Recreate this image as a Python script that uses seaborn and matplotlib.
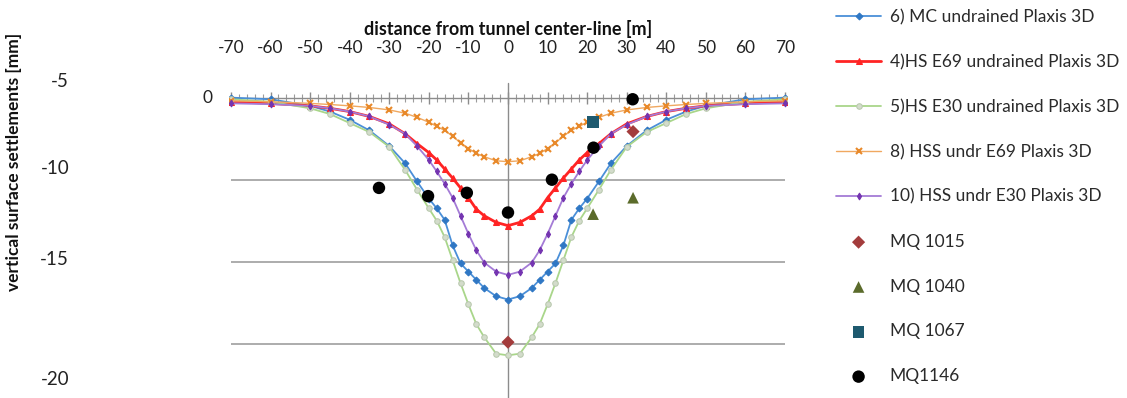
import matplotlib
matplotlib.use("Agg")
import matplotlib.pyplot as plt
import seaborn as sns
import numpy as np
from matplotlib.ticker import MultipleLocator, FixedLocator, NullFormatter

# ---------------- data ----------------
x_dist = [-70, -60, -50, -45, -40, -35, -30, -26, -23, -20, -18, -16, -14, -12, -10, -8, -6, -3,
          0, 3, 6, 8, 10, 12, 14, 16, 18, 20, 23, 26, 30, 35, 40, 45, 50, 60, 70]

mc_undrained = [0.0, -0.1, -0.5, -0.85, -1.35, -2.0, -2.95, -4.0, -5.1, -6.15, -6.75, -7.45, -9.0, -10.1, -10.6, -11.1, -11.6, -12.1,
                -12.3, -12.1, -11.6, -11.1, -10.6, -10.1, -9.0, -7.45, -6.75, -6.15, -5.1, -4.0, -2.95, -2.0, -1.35, -0.85, -0.5, -0.1, 0.0]
hs_e69 = [-0.25, -0.35, -0.5, -0.65, -0.85, -1.15, -1.6, -2.2, -2.8, -3.35, -3.8, -4.35, -4.9, -5.5, -6.1, -6.8, -7.2, -7.6,
          -7.8, -7.6, -7.2, -6.8, -6.1, -5.5, -4.9, -4.35, -3.8, -3.35, -2.8, -2.2, -1.6, -1.15, -0.85, -0.65, -0.5, -0.35, -0.25]
hs_e30 = [-0.1, -0.25, -0.65, -1.0, -1.55, -2.1, -3.0, -4.4, -5.6, -6.75, -7.5, -8.5, -9.9, -11.3, -12.6, -13.8, -14.6, -15.6,
          -15.7, -15.6, -14.6, -13.8, -12.6, -11.3, -9.9, -8.5, -7.5, -6.75, -5.6, -4.4, -3.0, -2.1, -1.55, -1.0, -0.65, -0.25, -0.1]
hss_e69 = [-0.2, -0.25, -0.35, -0.42, -0.5, -0.6, -0.75, -0.95, -1.2, -1.5, -1.75, -2.0, -2.35, -2.75, -3.1, -3.4, -3.6, -3.85,
           -3.9, -3.85, -3.6, -3.4, -3.1, -2.75, -2.35, -2.0, -1.75, -1.5, -1.2, -0.95, -0.75, -0.6, -0.5, -0.42, -0.35, -0.25, -0.2]
hss_e30 = [-0.35, -0.4, -0.5, -0.65, -0.85, -1.15, -1.65, -2.2, -2.95, -3.8, -4.5, -5.25, -6.1, -7.2, -8.3, -9.3, -10.05, -10.6,
           -10.8, -10.6, -10.05, -9.3, -8.3, -7.2, -6.1, -5.25, -4.5, -3.8, -2.95, -2.2, -1.65, -1.15, -0.85, -0.65, -0.5, -0.4, -0.35]

mq1015_x = [0, 31.6]
mq1015_y = [-14.9, -2.07]
mq1040_x = [21.5, 31.6]
mq1040_y = [-7.1, -6.1]
mq1067_x = [21.5]
mq1067_y = [-1.5]
mq1146_x = [-32.6, -20.2, -10.4, 0, 11.1, 21.6, 31.5]
mq1146_y = [-5.5, -6.0, -5.8, -7.0, -5.0, -3.05, -0.1]

x_ticks = [-70, -60, -50, -40, -30, -20, -10, 0, 10, 20, 30, 40, 50, 60, 70]
grid_levels = [-5, -10, -15]
y_tick_labels = ["-5", "-10", "-15", "-20"]
y_tick_pos = [1.1, -4.2, -9.75, -17.1]

# ---------------- style ----------------
sns.set_theme(style="white")
plt.rcParams["font.family"] = ["Lato", "DejaVu Sans"]

W, H = 1127, 398
fig = plt.figure(figsize=(W / 100, H / 100), dpi=100)
ax_left, ax_right, ax_top, ax_bot = 229, 787, 73, 398
ax = fig.add_axes([ax_left / W, 1 - ax_bot / H, (ax_right - ax_left) / W, (ax_bot - ax_top) / H])
ax.set_xlim(-70.5, 70.5)
ax.set_ylim(-18.3, 1.5)

# grid lines
ax.hlines(grid_levels, -70, 70, color="#a6a6a6", lw=1.3, zorder=1)
ax.axvline(0, ymin=0, ymax=(0.9 + 18.3) / 19.8, color="#8c8c8c", lw=1.0, zorder=1)

series = [
    (mc_undrained, "6) MC undrained Plaxis 3D", dict(color="#4a8fd8", lw=1.3, marker="D", ms=3.5,
                                                      mfc="#2f77c4", mec="#2f77c4")),
    (hs_e69, "4)HS E69 undrained Plaxis 3D", dict(color="#ff2424", lw=2.0, marker="^", ms=4.5,
                                                   mfc="#ff2424", mec="#ff2424")),
    (hs_e30, "5)HS E30 undrained Plaxis 3D", dict(color="#a9d68a", lw=1.3, marker="o", ms=4,
                                                   mfc="#d3dccb", mec="#b9c9ae")),
    (hss_e69, "8) HSS undr E69 Plaxis 3D", dict(color="#f0a860", lw=1.0, marker="x", ms=4.5, mew=1.5,
                                                 mfc="#e8892a", mec="#e8892a")),
    (hss_e30, "10) HSS undr E30 Plaxis 3D", dict(color="#a47bd6", lw=1.3, marker="d", ms=3.5,
                                                  mfc="#7434b0", mec="#7434b0")),
]
for vals, label, kw in series:
    sns.lineplot(x=x_dist, y=vals, ax=ax, label=label, sort=False, zorder=3, **kw)

points = [
    (mq1015_x, mq1015_y, "MQ 1015", "D", "#a33c3c", 45),
    (mq1040_x, mq1040_y, "MQ 1040", "^", "#5b6b2b", 70),
    (mq1067_x, mq1067_y, "MQ 1067", "s", "#1e5a6f", 70),
    (mq1146_x, mq1146_y, "MQ1146", "o", "#000000", 80),
]
for xs, ys, label, m, c, s in points:
    sns.scatterplot(x=xs, y=ys, ax=ax, label=label, marker=m, color=c, s=s,
                    edgecolor="none", zorder=5)

# axes / spines
for side in ["top", "right", "left"]:
    ax.spines[side].set_visible(False)
ax.spines["bottom"].set_position(("data", 0))
ax.spines["bottom"].set_color("#8c8c8c")
ax.spines["bottom"].set_linewidth(1.0)
ax.spines["bottom"].set_bounds(-70, 70)
ax.xaxis.set_major_locator(FixedLocator(x_ticks))
ax.xaxis.set_minor_locator(MultipleLocator(2))
ax.xaxis.set_major_formatter(NullFormatter())
ax.tick_params(axis="x", which="major", direction="inout", length=8, color="#8c8c8c", width=1,
               bottom=True, labelbottom=False)
ax.tick_params(axis="x", which="minor", direction="inout", length=6, color="#9c9c9c", width=0.8,
               bottom=True)
ax.tick_params(axis="y", left=False, labelleft=False)
ax.set_yticks([])

# top tick labels + title
secx = ax.secondary_xaxis("top")
secx.set_xticks(x_ticks)
secx.set_xticklabels([str(t) for t in x_ticks])
secx.tick_params(length=0, pad=12, labelsize=12.5, colors="#222222")
secx.spines["top"].set_visible(False)
secx.set_xlabel("distance from tunnel center-line [m]", fontsize=13, fontweight="bold",
                labelpad=4, color="#111111")

# left tick labels (as in the reference, placed away from the plot)
secy = ax.secondary_yaxis((72 - ax_left) / (ax_right - ax_left))
secy.set_yticks(y_tick_pos)
secy.set_yticklabels(y_tick_labels)
secy.tick_params(length=0, pad=2, labelsize=13.5, colors="#222222")
secy.spines["left"].set_visible(False)

ax.text(-74.7, 0, "0", ha="right", va="center", fontsize=12.5, color="#222222", clip_on=False)

ax.set_ylabel("vertical surface settlements [mm]", fontsize=12.5, fontweight="bold", color="#111111")
ax.yaxis.set_label_coords((22 - ax_left) / (ax_right - ax_left), (ax_bot - 162) / (ax_bot - ax_top))

# legend
handles, labels = ax.get_legend_handles_labels()
if ax.legend_:
    ax.legend_.remove()
leg = fig.legend(handles, labels, loc="upper left", bbox_to_anchor=(836 / W, 1 - 9 / H),
                 frameon=False, fontsize=12.5, labelspacing=1.66, handlelength=2.6,
                 handletextpad=0.5, borderpad=0, borderaxespad=0)
for t in leg.get_texts():
    t.set_color("#2a2a2a")

fig.savefig("out.png", dpi=100)
